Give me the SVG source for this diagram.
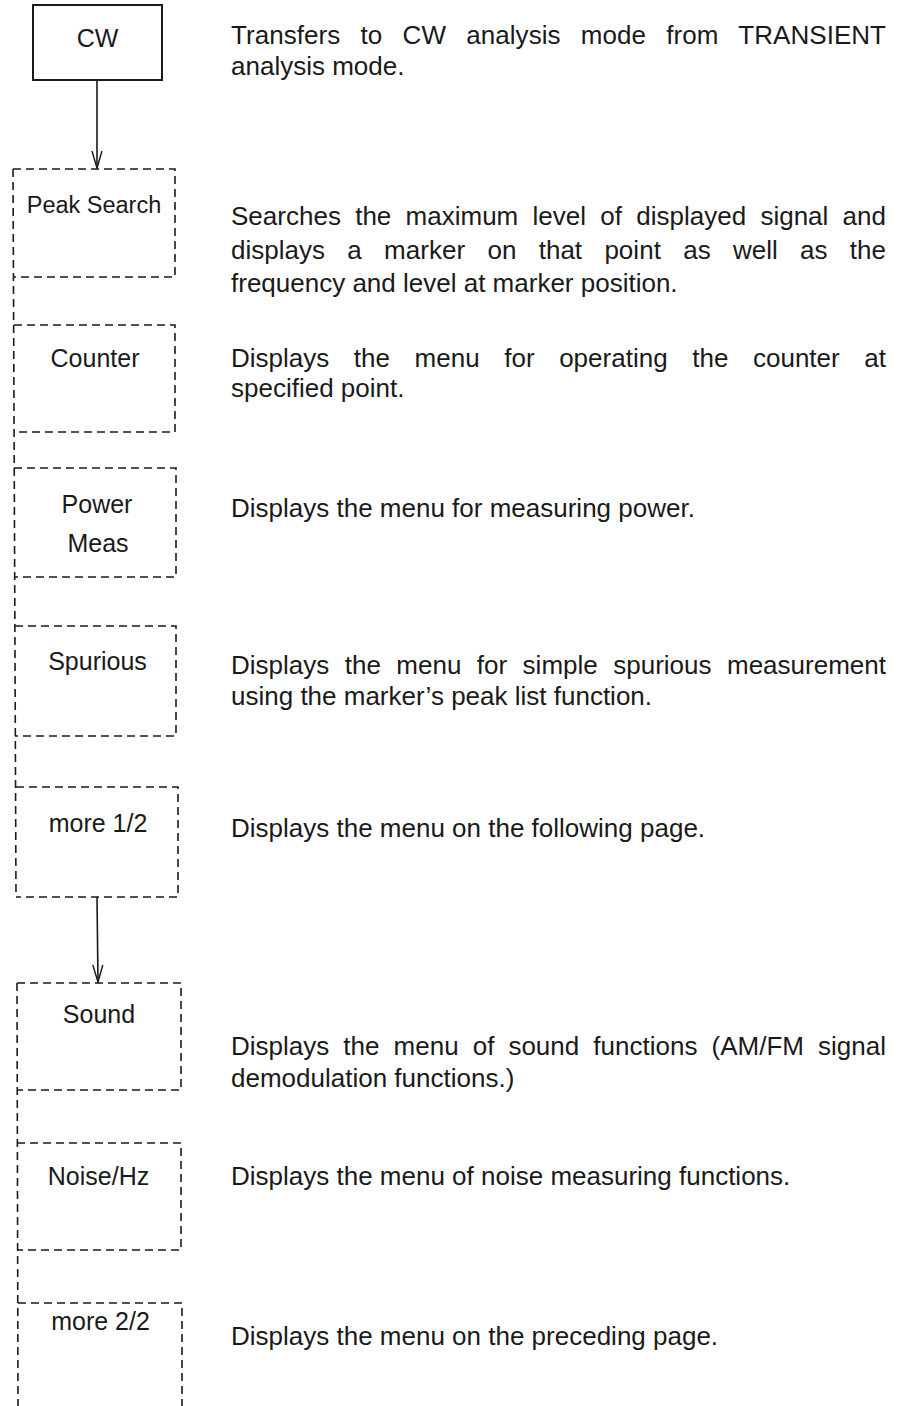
<svg xmlns="http://www.w3.org/2000/svg" width="906" height="1406" viewBox="0 0 906 1406">
<style>
.bg{fill:#fff}
.solid{fill:none;stroke:#1a1a1a;stroke-width:2}
.dash{fill:none;stroke:#1a1a1a;stroke-width:1.6;stroke-dasharray:8 5}
.conn{fill:none;stroke:#1a1a1a;stroke-width:1.6}
.lbl{font-family:"Liberation Sans",Arial,sans-serif;font-size:25px;fill:#1a1a1a;text-anchor:middle}
.desc{font-family:"Liberation Sans",Arial,sans-serif;font-size:26px;fill:#1a1a1a}
</style>
<defs>
<marker id="arr" markerWidth="20" markerHeight="12" refX="18" refY="6" orient="auto" markerUnits="userSpaceOnUse" viewBox="0 0 20 12">
<path d="M1,1 L18,6 L1,11 M8,3 L18,6 L8,9" fill="none" stroke="#1a1a1a" stroke-width="1.4"/>
</marker>
</defs>
<rect class="bg" x="0" y="0" width="906" height="1406"/>

<g id="connectors">
<line class="conn" x1="97" y1="80" x2="97" y2="168" marker-end="url(#arr)"/>
<line class="conn" x1="97" y1="897" x2="98" y2="982" marker-end="url(#arr)"/>
<line class="dash" x1="13" y1="169" x2="16" y2="897"/>
<line class="dash" x1="17" y1="983" x2="18" y2="1406"/>
</g>

<g id="node-cw">
<rect class="solid" x="33" y="5" width="129" height="75"/>
<text class="lbl" x="97.5" y="47">CW</text>
</g>
<g id="desc-cw">
<text class="desc" x="231" y="44" word-spacing="13" textLength="655" lengthAdjust="spacing">Transfers to CW analysis mode from TRANSIENT</text>
<text class="desc" x="231" y="75">analysis mode.</text>
</g>

<g id="node-peak-search">
<path class="dash" d="M13,169 H175 V277 H13"/>
<text class="lbl" x="94" y="213" style="font-size:23.5px">Peak Search</text>
</g>
<g id="desc-peak-search">
<text class="desc" x="231" y="225" word-spacing="7" textLength="655" lengthAdjust="spacing">Searches the maximum level of displayed signal and</text>
<text class="desc" x="231" y="259" word-spacing="15" textLength="655" lengthAdjust="spacing">displays a marker on that point as well as the</text>
<text class="desc" x="231" y="292">frequency and level at marker position.</text>
</g>

<g id="node-counter">
<path class="dash" d="M14,325 H175 V432 H14"/>
<text class="lbl" x="95" y="367">Counter</text>
</g>
<g id="desc-counter">
<text class="desc" x="231" y="367" word-spacing="17.3" textLength="655" lengthAdjust="spacing">Displays the menu for operating the counter at</text>
<text class="desc" x="231" y="397">specified point.</text>
</g>

<g id="node-power-meas">
<path class="dash" d="M14,468 H176 V577 H14"/>
<text class="lbl" x="97" y="513">Power</text>
<text class="lbl" x="98" y="552">Meas</text>
</g>
<g id="desc-power-meas">
<text class="desc" x="231" y="517">Displays the menu for measuring power.</text>
</g>

<g id="node-spurious">
<path class="dash" d="M15,626 H176 V736 H15"/>
<text class="lbl" x="97.5" y="670">Spurious</text>
</g>
<g id="desc-spurious">
<text class="desc" x="231" y="674" word-spacing="8.2" textLength="655" lengthAdjust="spacing">Displays the menu for simple spurious measurement</text>
<text class="desc" x="231" y="705">using the marker’s peak list function.</text>
</g>

<g id="node-more-1-2">
<path class="dash" d="M16,787 H178 V897 H16"/>
<text class="lbl" x="98" y="832">more 1/2</text>
</g>
<g id="desc-more-1-2">
<text class="desc" x="231" y="837">Displays the menu on the following page.</text>
</g>

<g id="node-sound">
<path class="dash" d="M17,983 H181 V1090 H17"/>
<text class="lbl" x="99" y="1023">Sound</text>
</g>
<g id="desc-sound">
<text class="desc" x="231" y="1055" word-spacing="6.8" textLength="655" lengthAdjust="spacing">Displays the menu of sound functions (AM/FM signal</text>
<text class="desc" x="231" y="1087">demodulation functions.)</text>
</g>

<g id="node-noise-hz">
<path class="dash" d="M17,1143 H181 V1250 H17"/>
<text class="lbl" x="98.5" y="1185">Noise/Hz</text>
</g>
<g id="desc-noise-hz">
<text class="desc" x="231" y="1185">Displays the menu of noise measuring functions.</text>
</g>

<g id="node-more-2-2">
<path class="dash" d="M18,1303 H182 V1406"/>
<text class="lbl" x="100.5" y="1330">more 2/2</text>
</g>
<g id="desc-more-2-2">
<text class="desc" x="231" y="1345">Displays the menu on the preceding page.</text>
</g>
</svg>
